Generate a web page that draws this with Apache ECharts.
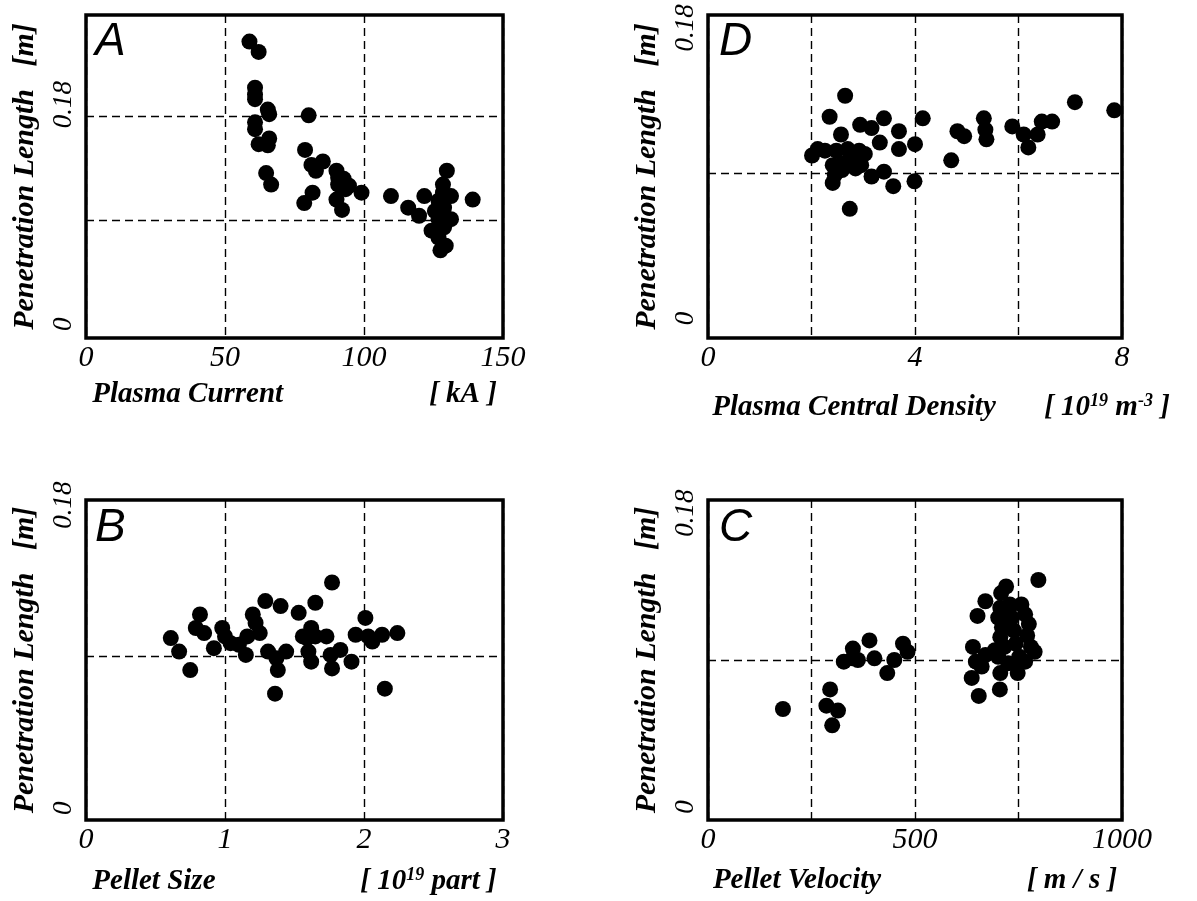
<!DOCTYPE html>
<html>
<head>
<meta charset="utf-8">
<script src="https://cdn.jsdelivr.net/npm/echarts@6/dist/echarts.min.js"></script>
<style>
  html, body { margin: 0; padding: 0; background: #fff; }
  #chart { width: 1197px; height: 901px; }
</style>
</head>
<body>
<div id="chart"></div>
<script>
// Panel A: penetration length vs plasma current [kA]
const currentKA = [58.8, 62.1, 60.8, 60.8, 60.8, 65.4, 65.9, 80.1, 60.8, 60.8, 62.1, 65.9, 65.4, 78.8, 64.8, 66.6,
  85.2, 81.1, 82.7, 90.1, 90.7, 92.7, 94.6, 90.7, 93.4, 99.1, 81.5, 78.5, 90.1, 92.1,
  109.7, 115.9, 119.8, 121.7, 129.8, 128.4, 131.3, 126.8, 128.8, 126.8, 131.3, 124.3, 126.8, 129.4, 127.5, 139.1, 128.4, 125.5, 128.8];
const penA = [0.245, 0.236, 0.205, 0.199, 0.195, 0.186, 0.182, 0.181, 0.175, 0.169, 0.156, 0.161, 0.155, 0.151, 0.131, 0.121,
  0.141, 0.138, 0.133, 0.133, 0.127, 0.126, 0.120, 0.121, 0.117, 0.114, 0.114, 0.105, 0.108, 0.099,
  0.111, 0.101, 0.094, 0.111, 0.133, 0.121, 0.111, 0.107, 0.101, 0.091, 0.091, 0.081, 0.075, 0.068, 0.064, 0.108, 0.114, 0.098, 0.084];

// Panel D: penetration length vs plasma central density [1e19 m^-3]
const densityD = [2.65, 2.35, 2.57, 2.94, 3.16, 3.40, 3.69, 3.32, 3.69, 4.00, 4.15, 2.01, 2.12, 2.26, 2.48, 2.70, 2.92, 3.03,
  2.41, 2.59, 2.74, 2.96, 2.45, 2.41, 2.59, 3.16, 3.40, 3.58, 3.99, 2.74, 4.70, 4.82, 4.95, 5.33, 5.36, 5.38,
  5.88, 6.10, 6.19, 6.37, 6.45, 6.65, 7.09, 7.85, 2.78, 2.85];
const penD = [0.138, 0.125, 0.114, 0.120, 0.118, 0.124, 0.116, 0.109, 0.105, 0.108, 0.124, 0.101, 0.105, 0.104, 0.104, 0.105, 0.104, 0.102,
  0.095, 0.096, 0.099, 0.095, 0.089, 0.084, 0.092, 0.088, 0.091, 0.082, 0.085, 0.068, 0.098, 0.116, 0.113, 0.124, 0.117, 0.111,
  0.119, 0.114, 0.106, 0.114, 0.122, 0.122, 0.134, 0.129, 0.102, 0.093];

// Panel B: penetration length vs pellet size [1e19 particles]
const pelletSize = [0.61, 0.67, 0.75, 0.79, 0.82, 0.85, 0.92, 0.98, 1.00, 1.04, 1.10, 1.15, 1.16, 1.20, 1.22, 1.25, 1.29, 1.31,
  1.37, 1.40, 1.44, 1.38, 1.36, 1.53, 1.56, 1.62, 1.65, 1.60, 1.62, 1.65, 1.73, 1.77, 1.76, 1.77, 1.83, 1.91,
  1.94, 2.01, 2.03, 2.06, 2.13, 2.15, 2.24, 1.59];
const penB = [0.101, 0.093, 0.082, 0.107, 0.115, 0.104, 0.095, 0.107, 0.102, 0.098, 0.097, 0.091, 0.102, 0.115, 0.110, 0.104, 0.123, 0.093,
  0.089, 0.120, 0.093, 0.082, 0.068, 0.116, 0.102, 0.107, 0.122, 0.093, 0.087, 0.102, 0.102, 0.134, 0.091, 0.083, 0.094, 0.087,
  0.103, 0.113, 0.102, 0.099, 0.103, 0.071, 0.104, 0.101];

// Panel C: penetration length vs pellet velocity [m/s]
const velocityC = [181, 295, 286, 314, 300, 328, 349, 350, 362, 390, 402, 433, 450, 471, 482,
  640, 637, 654, 647, 661, 670, 651, 670, 705, 708, 720, 706, 701, 710, 706, 716, 701, 706, 725,
  729, 734, 739, 743, 748, 748, 757, 766, 775, 771, 780, 789, 766, 798, 725, 725, 752, 693];
const penC = [0.060, 0.072, 0.062, 0.059, 0.050, 0.089, 0.091, 0.097, 0.090, 0.102, 0.091, 0.082, 0.090, 0.100, 0.095,
  0.098, 0.079, 0.068, 0.089, 0.086, 0.093, 0.117, 0.126, 0.072, 0.131, 0.135, 0.122, 0.116, 0.110, 0.104, 0.098, 0.092, 0.082, 0.088,
  0.124, 0.116, 0.108, 0.100, 0.088, 0.082, 0.124, 0.118, 0.112, 0.105, 0.098, 0.095, 0.089, 0.139, 0.110, 0.120, 0.092, 0.096];

// Axis tick labels and guide-line positions
const yTickLabels = [0, 0.18];
const yGuidesA = [0.09, 0.18];
const yGuidesOther = [0.09];
const xTicksD = [0, 4, 8];
const xTicksC = [0, 500, 1000];

const SERIF = '"Liberation Serif", "Times New Roman", serif';
const SANS = '"Liberation Sans", Arial, sans-serif';

function pairs(xs, ys) { return xs.map((x, i) => [x, ys[i]]); }

const gridBase = { show: true, borderColor: '#000', borderWidth: 3.5, backgroundColor: 'transparent' };
const grids = [
  Object.assign({ left: 86, top: 15, width: 417, height: 323 }, gridBase),
  Object.assign({ left: 708, top: 15, width: 414, height: 323 }, gridBase),
  Object.assign({ left: 86, top: 500, width: 417, height: 320 }, gridBase),
  Object.assign({ left: 708, top: 500, width: 414, height: 320 }, gridBase)
];

const dash = { type: [8, 5], color: '#000', width: 1.4 };
const NAME_SIZE = 29;
const baseName = { fontFamily: SERIF, fontStyle: 'italic', fontWeight: 'bold', fontSize: NAME_SIZE, color: '#000' };
const tickFont = { fontFamily: SERIF, fontStyle: 'italic', fontSize: 27, color: '#000' };

function nameStyle(widthT, padLeft) {
  return {
    padding: [0, 0, 0, padLeft],
    rich: {
      t: Object.assign({}, baseName, { width: widthT, align: 'left' }),
      u: Object.assign({}, baseName, { align: 'left' }),
      s: Object.assign({}, baseName, { fontSize: 18, align: 'left', verticalAlign: 'bottom', padding: [0, 0, 13, 0] })
    }
  };
}

function xAxis(gi, min, max, interval, name, gap, labelSet, widthT, padLeft) {
  return {
    gridIndex: gi, type: 'value', min: min, max: max, interval: interval,
    axisLine: { show: false }, axisTick: { show: false },
    splitLine: { show: true, lineStyle: dash },
    axisLabel: {
      color: '#000', fontFamily: SERIF, fontStyle: 'italic', fontSize: 30, margin: 5,
      formatter: v => (labelSet && labelSet.indexOf(v) < 0) ? '' : String(v)
    },
    name: name, nameLocation: 'middle', nameGap: gap,
    nameTextStyle: nameStyle(widthT, padLeft)
  };
}

// liftTop: push the upper tick label along the axis (used in panel A)
function yAxis(gi, min, max, liftTop) {
  return {
    gridIndex: gi, type: 'value', min: min, max: max,
    axisLine: { show: false }, axisTick: { show: false }, splitLine: { show: false },
    axisLabel: Object.assign({}, tickFont, {
      customValues: yTickLabels, rotate: 90, margin: 9,
      formatter: v => v === 0 ? '{n|0}' : '{h|' + v + '}',
      rich: {
        n: Object.assign({}, tickFont),
        h: Object.assign({}, tickFont, { padding: [0, 0, 0, liftTop] })
      }
    }),
    name: 'Penetration Length   [m]', nameLocation: 'middle', nameRotate: 90, nameGap: 46,
    nameTextStyle: { fontFamily: SERIF, fontStyle: 'italic', fontWeight: 'bold', fontSize: 30, color: '#000' }
  };
}

function scatter(gi, data, guides) {
  return {
    type: 'scatter', xAxisIndex: gi, yAxisIndex: gi, data: data,
    symbol: 'circle', symbolSize: 16, itemStyle: { color: '#000', opacity: 1 },
    silent: true, animation: false,
    markLine: {
      silent: true, symbol: 'none', animation: false,
      label: { show: false }, lineStyle: dash,
      data: guides.map(v => ({ yAxis: v }))
    }
  };
}

const letterStyle = { fontFamily: SANS, fontStyle: 'italic', fontWeight: 'normal', fontSize: 46, color: '#000' };

const option = {
  backgroundColor: '#fff',
  animation: false,
  title: [
    { text: 'A', left: 95, top: 19, textStyle: letterStyle, padding: 0 },
    { text: 'D', left: 719, top: 19, textStyle: letterStyle, padding: 0 },
    { text: 'B', left: 95, top: 505, textStyle: letterStyle, padding: 0 },
    { text: 'C', left: 719, top: 505, textStyle: letterStyle, padding: 0 }
  ],
  grid: grids,
  xAxis: [
    xAxis(0, 0, 150, 50, '{t|Plasma Current}{u|[ kA ]}', 42, null, 337, 0),
    xAxis(1, 0, 8, 2, '{t|Plasma Central Density}{u|[ 10}{s|19}{u| m}{s|-3}{u| ]}', 54, xTicksD, 332, 52),
    xAxis(2, 0, 3, 1, '{t|Pellet Size}{u|[ 10}{s|19}{u| part ]}', 46, null, 268, 0),
    xAxis(3, 0, 1000, 250, '{t|Pellet Velocity}{u|[ m / s ]}', 46, xTicksC, 314, 0)
  ],
  yAxis: [
    yAxis(0, -0.012, 0.268, 24),
    yAxis(1, -0.012, 0.188, 0),
    yAxis(2, -0.007, 0.183, 0),
    yAxis(3, -0.008, 0.188, 0)
  ],
  series: [
    scatter(0, pairs(currentKA, penA), yGuidesA),
    scatter(1, pairs(densityD, penD), yGuidesOther),
    scatter(2, pairs(pelletSize, penB), yGuidesOther),
    scatter(3, pairs(velocityC, penC), yGuidesOther)
  ]
};

const chart = echarts.init(document.getElementById('chart'), null, { renderer: 'canvas' });
chart.setOption(option);
</script>
</body>
</html>
